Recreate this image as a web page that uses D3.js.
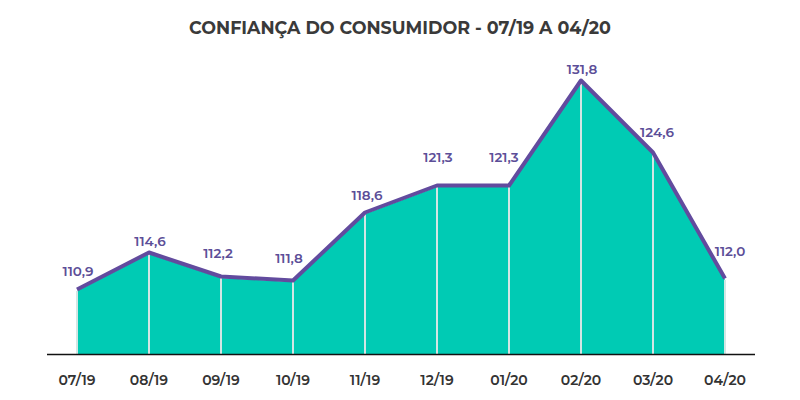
<!DOCTYPE html>
<html><head><meta charset="utf-8">
<script src="https://cdn.jsdelivr.net/npm/d3@7"></script>
<style>body{margin:0;background:#fff}svg{display:block}</style>
</head><body><svg id="c" width="800" height="400"></svg>
<script>
const categories = ["07/19","08/19","09/19","10/19","11/19","12/19","01/20","02/20","03/20","04/20"];
const values = [110.9,114.6,112.2,111.8,118.6,121.3,121.3,131.8,124.6,112.0];
const valueLabels = ["110,9","114,6","112,2","111,8","118,6","121,3","121,3","131,8","124,6","112,0"];
const title = "CONFIANÇA DO CONSUMIDOR - 07/19 A 04/20";
// label placement offsets (style, in px)
const labelDx = [1,1,-3,-4,2,1,-5,1,4,5];
const labelDy = [-15,-8,-20,-19,-14,-25,-25,-8,-17,-24];

const svg = d3.select("#c");
const font = "Montserrat, 'Open Sans', Lato, sans-serif";
const x = d3.scalePoint().domain(categories).range([77,725]);
const y = d3.scaleLinear().domain([104.6,131.8]).range([354,82]);
const data = categories.map((c,i)=>({c, v: values[i], l: valueLabels[i]}));

svg.append("text").attr("x",400).attr("y",34).attr("text-anchor","middle")
  .attr("font-family",font).attr("font-weight",700).attr("font-size",17.5)
  .attr("fill","#3a3a3a").text(title);

const area = d3.area().x(d=>x(d.c)).y0(y.range()[0]).y1(d=>y(d.v));
svg.append("path").datum(data).attr("d",area).attr("fill","#00cbb4");

svg.selectAll("line.v").data(data).join("line").attr("class","v")
  .attr("x1",d=>x(d.c)).attr("x2",d=>x(d.c))
  .attr("y1",d=>y(d.v)).attr("y2",y.range()[0])
  .attr("stroke","#d3e6e4").attr("stroke-width",2);

const line = d3.line().x(d=>x(d.c)).y(d=>y(d.v)-1.5);
svg.append("path").datum(data).attr("d",line).attr("fill","none")
  .attr("stroke","#624b9e").attr("stroke-width",4).attr("stroke-linejoin","round");

svg.append("line").attr("x1",47).attr("x2",755).attr("y1",354.5).attr("y2",354.5)
  .attr("stroke","#111").attr("stroke-width",1.5);

svg.selectAll("text.xl").data(categories).join("text").attr("class","xl")
  .attr("x",d=>x(d)).attr("y",385).attr("text-anchor","middle")
  .attr("font-family",font).attr("font-weight",600).attr("font-size",14)
  .attr("fill","#333").text(d=>d);

svg.selectAll("text.vl").data(data).join("text").attr("class","vl")
  .attr("x",(d,i)=> x(d.c) + labelDx[i])
  .attr("y",(d,i)=> y(d.v) + labelDy[i])
  .attr("text-anchor","middle")
  .attr("font-family",font).attr("font-weight",600).attr("font-size",13.5)
  .attr("fill","#5c4e98").text(d=>d.l);
</script></body></html>
